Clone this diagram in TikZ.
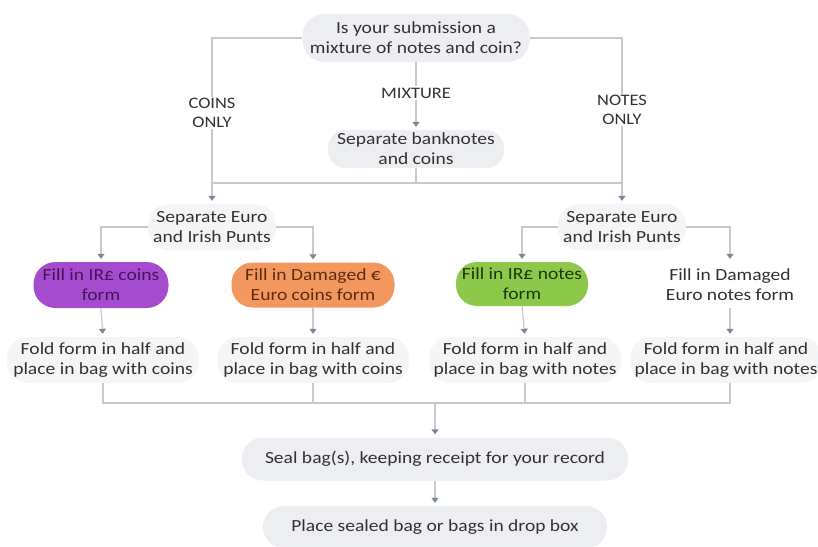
\documentclass[tikz,border=0pt]{standalone}
\usepackage{fontspec}
\setmainfont{Carlito}[FakeStretch=1.15]
\usetikzlibrary{arrows.meta}
\definecolor{pillgrey}{RGB}{236,238,242}
\definecolor{pillfaint}{RGB}{244,245,247}
\definecolor{linegrey}{RGB}{198,202,208}
\definecolor{tipgrey}{RGB}{120,136,152}
\definecolor{txt}{RGB}{50,50,50}
\definecolor{purp}{RGB}{165,75,205}
\definecolor{purptxt}{RGB}{70,20,90}
\definecolor{orng}{RGB}{242,152,95}
\definecolor{orngtxt}{RGB}{90,45,15}
\definecolor{grn}{RGB}{142,200,75}
\definecolor{grntxt}{RGB}{30,55,10}
\begin{document}
\begin{tikzpicture}[x=1pt,y=-1pt,
  font=\fontsize{17}{20}\selectfont,
  pill/.style={draw=none, fill=pillgrey, align=center, text=txt, inner sep=0pt},
  faintpill/.style={pill, fill=pillfaint},
  conn/.style={draw=linegrey, line width=1.2pt},
  arr/.style={conn, -{Triangle[width=7pt,length=5pt,color=tipgrey]}, shorten >=3pt},
  lbl/.style={fill=white, text=txt, align=center, inner sep=1.5pt, font=\fontsize{16}{19}\selectfont}]
\useasboundingbox (0,0) rectangle (818,546);
\fill[white] (0,0) rectangle (818,546);

% nodes
\node[pill, minimum width=227pt, minimum height=48pt, rounded corners=22pt] (q) at (416,38) {Is your submission a\\mixture of notes and coin?};
\node[pill, minimum width=176pt, minimum height=38pt, rounded corners=18pt] (sb) at (416,149) {Separate banknotes\\and coins};
\node[faintpill, minimum width=128pt, minimum height=46pt, rounded corners=21pt] (seL) at (212,227) {Separate Euro\\and Irish Punts};
\node[faintpill, minimum width=128pt, minimum height=46pt, rounded corners=21pt] (seR) at (622,227) {Separate Euro\\and Irish Punts};
\node[pill, fill=purp, text=purptxt, minimum width=135pt, minimum height=46pt, rounded corners=22pt] (fA) at (101,285) {Fill in IR£ coins\\form};
\node[pill, fill=orng, text=orngtxt, minimum width=163pt, minimum height=45pt, rounded corners=21pt] (fB) at (313,285) {Fill in Damaged €\\Euro coins form};
\node[pill, fill=grn, text=grntxt, minimum width=132pt, minimum height=44pt, rounded corners=21pt] (fC) at (522,284) {Fill in IR£ notes\\form};
\node[pill, fill=white, minimum width=150pt, minimum height=46pt] (fD) at (730,285) {Fill in Damaged\\Euro notes form};
\node[faintpill, minimum width=192pt, minimum height=46pt, rounded corners=21pt] (gA) at (103,360) {Fold form in half and\\place in bag with coins};
\node[faintpill, minimum width=192pt, minimum height=46pt, rounded corners=21pt] (gB) at (313,360) {Fold form in half and\\place in bag with coins};
\node[faintpill, minimum width=192pt, minimum height=46pt, rounded corners=21pt] (gC) at (525,360) {Fold form in half and\\place in bag with notes};
\node[faintpill, minimum width=192pt, minimum height=46pt, rounded corners=21pt] (gD) at (726,360) {Fold form in half and\\place in bag with notes};
\node[pill, minimum width=386pt, minimum height=43pt, rounded corners=21pt] (seal) at (435,459) {Seal bag(s), keeping receipt for your record};
\node[pill, minimum width=344pt, minimum height=42pt, rounded corners=21pt] (place) at (435,527) {Place sealed bag or bags in drop box};

% connectors
\coordinate (m) at (416,183);
\coordinate (b) at (435,403);
\draw[arr] (q.west) -| (seL.north);
\draw[arr] (q.east) -| (seR.north);
\draw[arr] (q.south) -- (sb.north);
\draw[conn] (sb.south) -- (m);
\draw[conn] (seL.north |- m) -- (seR.north |- m);
\draw[arr] (seL.west) -| (fA.north);
\draw[arr] (seL.east) -| (fB.north);
\draw[arr] (seR.west) -| (fC.north);
\draw[arr] (seR.east) -| (fD.north);
\draw[arr] (fA.south) -- (gA.north);
\draw[arr] (fB.south) -- (gB.north);
\draw[arr] (fC.south) -- (gC.north);
\draw[arr] (fD.south) -- (fD.south |- gD.north);
\draw[conn] (gA.south) -- (gA.south |- b) -- (fD.south |- b) -- (fD.south |- gD.south);
\draw[conn] (gB.south) -- (gB.south |- b);
\draw[conn] (gC.south) -- (gC.south |- b);
\draw[arr] (b) -- (seal.north);
\draw[arr] (seal.south) -- (place.north);

% labels
\node[lbl] (lc) at (212,113) {COINS\\ONLY};
\node[lbl] (ln) at (622,110) {NOTES\\ONLY};
\node[lbl] (lm) at (416,93) {MIXTURE};
\end{tikzpicture}
\end{document}
